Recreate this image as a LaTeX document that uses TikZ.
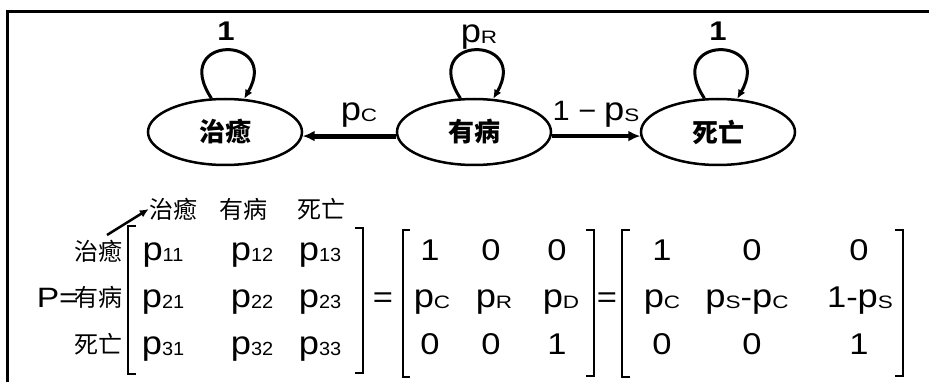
\documentclass[tikz,border=0pt]{standalone}
\usepackage{fontspec}
\setmainfont{Liberation Sans}
\newfontfamily\cjk{Noto Sans CJK SC}
\usetikzlibrary{shapes.geometric,arrows.meta}
% subscript letter / digits
\newcommand\sbs[1]{\raisebox{-1pt}{\fontsize{18}{18}\selectfont\scalebox{1.25}[1]{#1}}}
\newcommand\sbd[1]{\raisebox{-1.5pt}{\fontsize{19}{19}\selectfont\scalebox{1.05}[1]{#1}}}
\newcommand\pp{{\fontsize{33}{33}\selectfont\scalebox{1.1}[1]{p}}}
\newcommand\wtx[1]{\scalebox{1.15}[1]{#1}}
\begin{document}
\begin{tikzpicture}[x=1pt,y=-1pt,
  state/.style={ellipse,draw,line width=2.5pt,minimum width=154pt,minimum height=66pt,inner sep=0pt,font=\fontsize{26}{26}\selectfont\cjk\bfseries},
  lbl/.style={font=\fontsize{28}{28}\selectfont,inner sep=0pt},
  ent/.style={font=\fontsize{30}{30}\selectfont,inner sep=0pt,anchor=base},
  rowl/.style={font=\fontsize{24}{24}\selectfont\cjk,inner sep=0pt,anchor=base east},
  coll/.style={font=\fontsize{24}{24}\selectfont\cjk,inner sep=0pt},
  loopst/.style={line width=3pt,-{Latex[length=9pt,width=8pt]}},
  trans/.style={-{Latex[length=12pt,width=11pt]}},
  brk/.style={line width=2pt}]
\useasboundingbox (0,0) rectangle (929,382);
% frame
\draw[line width=3pt] (929,12) -- (7,12) -- (7,382);
% states
\node[state] (e1) at (225,132) {治癒};
\node[state] (e2) at (474,132) {有病};
\node[state] (e3) at (718,132) {死亡};
% loops
\draw[loopst] (e1.112) .. controls +(-42,-64) and +(37,-64) .. (e1.60);
\draw[loopst] (e2.112) .. controls +(-42,-64) and +(37,-64) .. (e2.60);
\draw[loopst] (e3.112) .. controls +(-42,-64) and +(37,-64) .. (e3.60);
\node[lbl,font=\fontsize{27}{27}\selectfont\bfseries] (l1) at (226,31) {\scalebox{1.15}[1]{1}};
\node[lbl] (l2) at (479,37) {\pp\sbs{R}};
\node[lbl,font=\fontsize{27}{27}\selectfont\bfseries] (l3) at (718,31) {\scalebox{1.15}[1]{1}};
% transitions
\draw[trans,line width=5pt] (e2.183) -- (e1.-3);
\draw[trans,line width=3.5pt] (e2.-3) -- (e3.183);
\node[lbl] (lc) at (359,115) {\pp\sbs{C}};
\node[lbl] (ls) at (596,114) {\scalebox{1.1}[1]{1 −} \pp\sbs{S}};
% column headers
\node[coll] (h1) at (173,209) {治癒};
\node[coll] (h2) at (243,209) {有病};
\node[coll] (h3) at (321,209) {死亡};
\coordinate (hs) at (107,235);
\draw[line width=2.5pt,-{Latex[length=9pt,width=8pt]}] (hs) -- (h1.west);
% row labels
\node[rowl] (r1) at (123,260) {治癒};
\node[rowl] (r2) at (123,306) {有病};
\node[rowl] (r3) at (123,353) {死亡};
\node[ent,anchor=base east,font=\fontsize{28}{28}\selectfont] (P) at (79,307) {\scalebox{1.2}[1]{P=}};
% matrix 1
\draw[brk] (136,226) -- (128,226) -- (128,374) -- (136,374);
\draw[brk] (355,228) -- (363,228) -- (363,373) -- (355,373);
\node[ent] (a11) at (163,260) {\pp\sbd{11}};
\node[ent] (a12) at (252,260) {\pp\sbd{12}};
\node[ent] (a13) at (320,260) {\pp\sbd{13}};
\node[ent] (a21) at (163,307) {\pp\sbd{21}};
\node[ent] (a22) at (252,307) {\pp\sbd{22}};
\node[ent] (a23) at (320,307) {\pp\sbd{23}};
\node[ent] (a31) at (163,354) {\pp\sbd{31}};
\node[ent] (a32) at (252,354) {\pp\sbd{32}};
\node[ent] (a33) at (320,354) {\pp\sbd{33}};
\node[ent] (eq1) at (383,307) {\wtx{=}};
% matrix 2
\draw[brk] (410,230) -- (403,230) -- (403,377) -- (410,377);
\draw[brk] (586,230) -- (594,230) -- (594,376) -- (586,376);
\node[ent] (b11) at (430,260) {\wtx{1}};
\node[ent] (b12) at (491,260) {\wtx{0}};
\node[ent] (b13) at (557,260) {\wtx{0}};
\node[ent] (b21) at (432,307) {\pp\sbs{C}};
\node[ent] (b22) at (494,307) {\pp\sbs{R}};
\node[ent] (b23) at (561,307) {\pp\sbs{D}};
\node[ent] (b31) at (430,354) {\wtx{0}};
\node[ent] (b32) at (491,354) {\wtx{0}};
\node[ent] (b33) at (557,354) {\wtx{1}};
\node[ent] (eq2) at (607,307) {\wtx{=}};
% matrix 3
\draw[brk] (630,230) -- (622,230) -- (622,377) -- (630,377);
\draw[brk] (895,230) -- (903,230) -- (903,376) -- (895,376);
\node[ent] (c11) at (662,260) {\wtx{1}};
\node[ent] (c12) at (752,260) {\wtx{0}};
\node[ent] (c13) at (859,260) {\wtx{0}};
\node[ent] (c21) at (662,307) {\pp\sbs{C}};
\node[ent] (c22) at (747,307) {\pp\sbs{S}\wtx{-}\pp\sbs{C}};
\node[ent] (c23) at (860,307) {\wtx{1-}\pp\sbs{S}};
\node[ent] (c31) at (662,354) {\wtx{0}};
\node[ent] (c32) at (752,354) {\wtx{0}};
\node[ent] (c33) at (859,354) {\wtx{1}};
\end{tikzpicture}
\end{document}
